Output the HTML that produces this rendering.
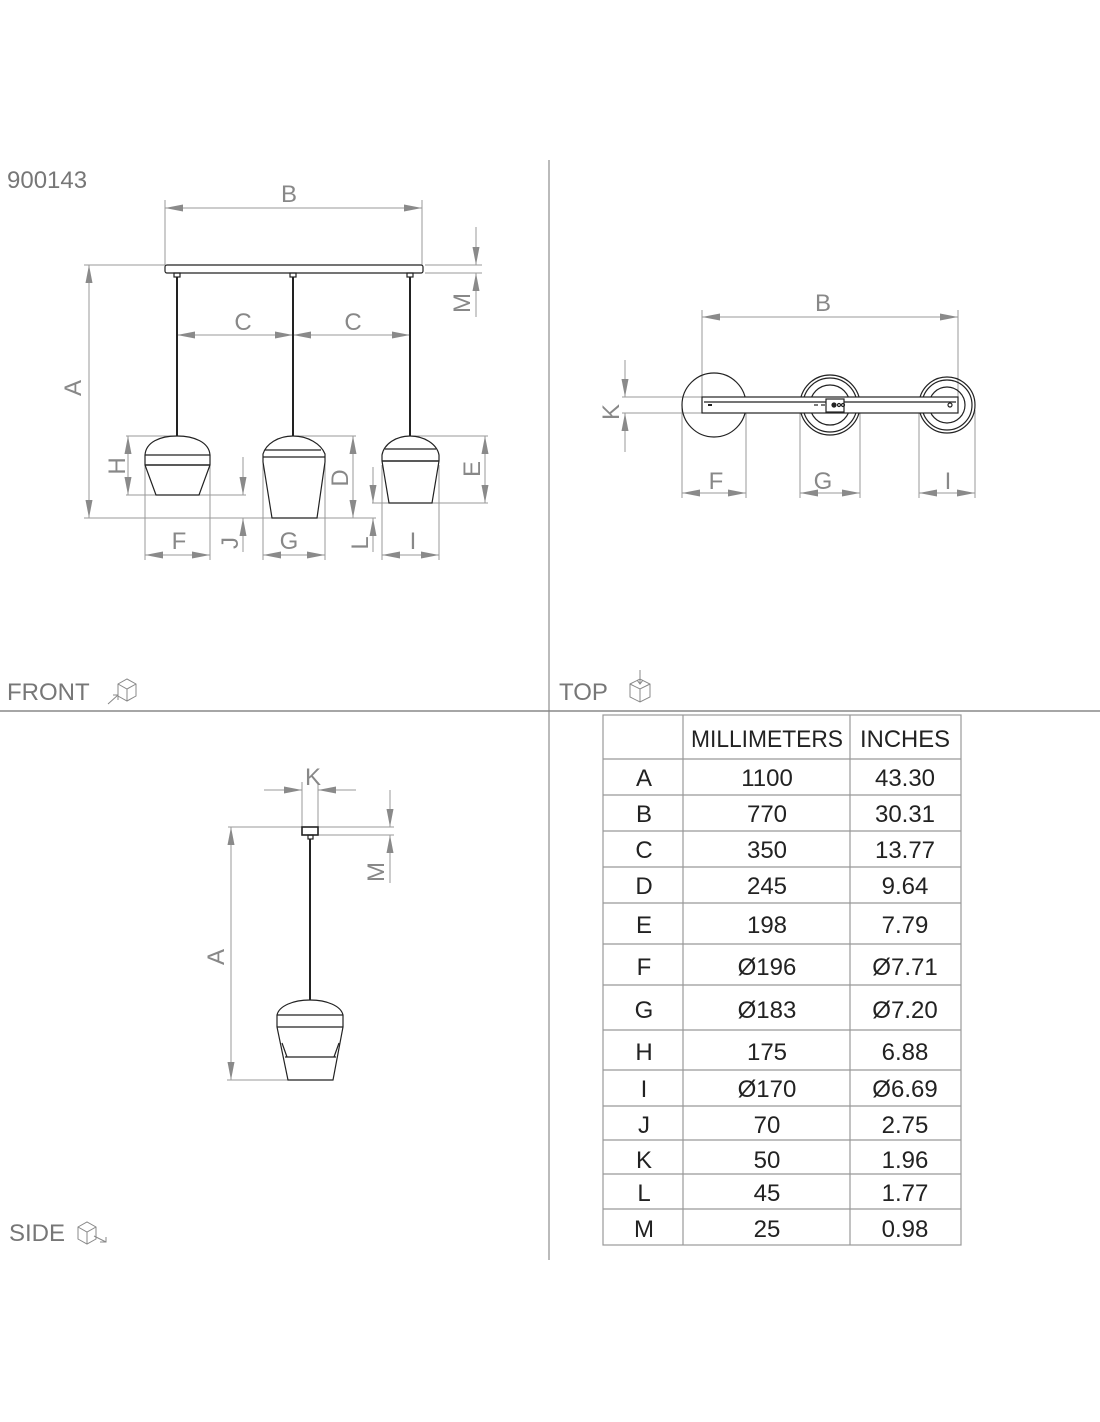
<!DOCTYPE html>
<html><head><meta charset="utf-8"><style>
html,body{margin:0;padding:0;background:#fff;}
svg{display:block;}
</style></head><body>
<svg width="1100" height="1422" viewBox="0 0 1100 1422" xmlns="http://www.w3.org/2000/svg" font-family="Liberation Sans, sans-serif">
<defs>
<marker id="a" markerUnits="userSpaceOnUse" markerWidth="18" markerHeight="7" refX="18" refY="3.5" orient="auto-start-reverse"><path d="M0,0 L18,3.5 L0,7 z" fill="#8a8a8a"/></marker>
</defs>
<g fill="none" stroke="#8f8f8f" stroke-width="1">
<!-- frame lines -->
<line x1="549" y1="160" x2="549" y2="1260" stroke="#777"/>
<line x1="0" y1="711" x2="1100" y2="711" stroke="#888" stroke-width="1.5"/>
</g>
<g fill="#777" font-size="24">
<text x="7" y="188">900143</text>
<text x="7" y="700">FRONT</text>
<text x="559" y="700">TOP</text>
<text x="9" y="1241">SIDE</text>
</g>
<!-- icons -->
<g fill="none" stroke="#888" stroke-width="1">
<path d="M118,684 l9,-5 l9,5 v12 l-9,5 l-9,-5 z M118,684 l9,5 l9,-5 M127,689 v12"/><path d="M108,704 l10,-9 M113,695 h5 v5"/>
<path d="M630,684 l10,-5 l10,5 v13 l-10,5 l-10,-5 z M630,684 l10,5 l10,-5 M640,689 v13 M640,670 v14 M637,680 l3,4 l3,-4"/>
<path d="M78,1227 l9,-5 l9,5 v12 l-9,5 l-9,-5 z M78,1227 l9,5 l9,-5 M87,1232 v12 M94,1236 l12,6 M100,1242 h6 v-5"/>
</g>

<!-- FRONT VIEW -->
<g fill="none" stroke="#9a9a9a" stroke-width="1">
<line x1="165" y1="200" x2="165" y2="265"/><line x1="422" y1="200" x2="422" y2="265"/>
<line x1="165" y1="208" x2="422" y2="208" marker-start="url(#a)" marker-end="url(#a)"/>
<line x1="425" y1="265" x2="482" y2="265"/><line x1="425" y1="273" x2="482" y2="273"/>
<line x1="476" y1="227" x2="476" y2="265" marker-end="url(#a)"/>
<line x1="476" y1="317" x2="476" y2="273" marker-end="url(#a)"/>
<line x1="84" y1="265" x2="165" y2="265"/><line x1="84" y1="518" x2="376" y2="518"/>
<line x1="89" y1="265" x2="89" y2="518" marker-start="url(#a)" marker-end="url(#a)"/>
<line x1="177" y1="335" x2="293" y2="335" marker-start="url(#a)" marker-end="url(#a)"/>
<line x1="293" y1="335" x2="410" y2="335" marker-start="url(#a)" marker-end="url(#a)"/>
<!-- H -->
<line x1="126" y1="436" x2="177" y2="436"/><line x1="126" y1="495" x2="246" y2="495"/>
<line x1="128" y1="436" x2="128" y2="495" marker-start="url(#a)" marker-end="url(#a)"/>
<!-- J -->
<line x1="243" y1="457" x2="243" y2="495" marker-end="url(#a)"/>
<line x1="243" y1="552" x2="243" y2="518" marker-end="url(#a)"/>
<!-- D -->
<line x1="293" y1="436" x2="356" y2="436"/>
<line x1="353" y1="436" x2="353" y2="518" marker-start="url(#a)" marker-end="url(#a)"/>
<!-- E -->
<line x1="410" y1="436" x2="488" y2="436"/><line x1="372" y1="503" x2="488" y2="503"/>
<line x1="485" y1="436" x2="485" y2="503" marker-start="url(#a)" marker-end="url(#a)"/>
<!-- L -->
<line x1="373" y1="467" x2="373" y2="503" marker-end="url(#a)"/>
<line x1="373" y1="552" x2="373" y2="518" marker-end="url(#a)"/>
<!-- F G I -->
<line x1="145" y1="460" x2="145" y2="560"/><line x1="210" y1="460" x2="210" y2="560"/>
<line x1="145" y1="555" x2="210" y2="555" marker-start="url(#a)" marker-end="url(#a)"/>
<line x1="263" y1="460" x2="263" y2="560"/><line x1="325" y1="460" x2="325" y2="560"/>
<line x1="263" y1="555" x2="325" y2="555" marker-start="url(#a)" marker-end="url(#a)"/>
<line x1="382" y1="465" x2="382" y2="560"/><line x1="439" y1="465" x2="439" y2="560"/>
<line x1="382" y1="555" x2="439" y2="555" marker-start="url(#a)" marker-end="url(#a)"/>
</g>
<g fill="none" stroke="#222" stroke-width="1.2">
<rect x="165" y="265" width="258" height="8" rx="2"/>
<rect x="174" y="273" width="6" height="4"/><rect x="290" y="273" width="6" height="4"/><rect x="407" y="273" width="6" height="4"/>
<line x1="177" y1="277" x2="177" y2="436" stroke-width="2"/>
<line x1="293" y1="277" x2="293" y2="436" stroke-width="2"/>
<line x1="410" y1="277" x2="410" y2="436" stroke-width="2"/>
<!-- left lamp -->
<path d="M145,455 C146,442 160,436 177,436 C194,436 209,442 210,455 V465 L199,495 H156 L145,465 Z"/>
<line x1="145" y1="455" x2="210" y2="455"/><line x1="145" y1="465" x2="210" y2="465" stroke-width="1.6"/>
<!-- middle lamp -->
<path d="M263,454 C266,444 278,436 293,436 C308,436 321,444 325,454 V462 L317,518 H272 L263,462 Z"/>
<line x1="265" y1="450" x2="321" y2="450"/><line x1="263" y1="457" x2="325" y2="457"/>
<!-- right lamp -->
<path d="M382,455 C384,444 396,436 410,436 C424,436 437,444 439,455 V461 L432,503 H389 L382,461 Z"/>
<line x1="385" y1="449" x2="436" y2="449"/><line x1="382" y1="461" x2="439" y2="461" stroke-width="1.6"/>
</g>
<g fill="#888" font-size="24" text-anchor="middle">
<text x="289" y="202">B</text>
<text x="243" y="330">C</text><text x="353" y="330">C</text>
<text x="179" y="549">F</text><text x="289" y="549">G</text><text x="413" y="549">I</text>
<text transform="translate(81,388) rotate(-90)">A</text>
<text transform="translate(125,466) rotate(-90)">H</text>
<text transform="translate(348,478) rotate(-90)">D</text>
<text transform="translate(480,469) rotate(-90)">E</text>
<text transform="translate(470,303) rotate(-90)">M</text>
<text transform="translate(238,543) rotate(-90)">J</text>
<text transform="translate(368,543) rotate(-90)">L</text>
</g>

<!-- TOP VIEW -->
<g fill="none" stroke="#9a9a9a" stroke-width="1">
<line x1="702" y1="310" x2="702" y2="397"/><line x1="958" y1="310" x2="958" y2="397"/>
<line x1="702" y1="317" x2="958" y2="317" marker-start="url(#a)" marker-end="url(#a)"/>
<line x1="622" y1="397" x2="702" y2="397"/><line x1="622" y1="413" x2="702" y2="413"/>
<line x1="625" y1="360" x2="625" y2="397" marker-end="url(#a)"/>
<line x1="625" y1="452" x2="625" y2="413" marker-end="url(#a)"/>
<line x1="682" y1="405" x2="682" y2="498"/><line x1="746" y1="405" x2="746" y2="498"/>
<line x1="682" y1="493" x2="746" y2="493" marker-start="url(#a)" marker-end="url(#a)"/>
<line x1="800" y1="410" x2="800" y2="498"/><line x1="860" y1="410" x2="860" y2="498"/>
<line x1="800" y1="493" x2="860" y2="493" marker-start="url(#a)" marker-end="url(#a)"/>
<line x1="919" y1="410" x2="919" y2="498"/><line x1="975" y1="410" x2="975" y2="498"/>
<line x1="919" y1="493" x2="975" y2="493" marker-start="url(#a)" marker-end="url(#a)"/>
</g>
<g fill="none" stroke="#222" stroke-width="1.2">
<circle cx="714" cy="405" r="32"/>
<circle cx="830" cy="405" r="30"/><circle cx="830" cy="405" r="27"/><circle cx="830" cy="405" r="20"/>
<circle cx="947" cy="405" r="28"/><circle cx="947" cy="405" r="25"/><circle cx="947" cy="405" r="18"/>
<rect x="702" y="397" width="256" height="16" fill="#fff"/>
<line x1="704" y1="402" x2="956" y2="402"/>
<rect x="826" y="399" width="18" height="13" fill="#fff"/>
<line x1="708" y1="405" x2="712" y2="405" stroke-width="2"/>
<circle cx="834" cy="405" r="2" fill="#222"/><circle cx="839" cy="405" r="1.5"/><circle cx="843" cy="405" r="1.5"/>
<line x1="814" y1="405" x2="818" y2="405"/><line x1="821" y1="405" x2="825" y2="405"/>
<circle cx="950" cy="405" r="2"/>
</g>
<g fill="#888" font-size="24" text-anchor="middle">
<text x="823" y="311">B</text>
<text x="716" y="489">F</text><text x="823" y="489">G</text><text x="948" y="489">I</text>
<text transform="translate(619,412) rotate(-90)">K</text>
</g>

<!-- SIDE VIEW -->
<g fill="none" stroke="#9a9a9a" stroke-width="1">
<line x1="302" y1="782" x2="302" y2="827"/><line x1="318" y1="782" x2="318" y2="827"/>
<line x1="264" y1="790" x2="302" y2="790" marker-end="url(#a)"/>
<line x1="356" y1="790" x2="318" y2="790" marker-end="url(#a)"/>
<line x1="228" y1="827" x2="394" y2="827"/><line x1="318" y1="835" x2="394" y2="835"/>
<line x1="390" y1="790" x2="390" y2="827" marker-end="url(#a)"/>
<line x1="390" y1="883" x2="390" y2="835" marker-end="url(#a)"/>
<line x1="231" y1="827" x2="231" y2="1080" marker-start="url(#a)" marker-end="url(#a)"/>
<line x1="227" y1="1080" x2="290" y2="1080"/>
</g>
<g fill="none" stroke="#222" stroke-width="1.2">
<rect x="302" y="827" width="16" height="8" stroke-width="1.6"/>
<rect x="308" y="835" width="5" height="4"/>
<line x1="310" y1="839" x2="310" y2="1000" stroke-width="2"/>
<path d="M277,1015 C279,1006 293,1000 310,1000 C327,1000 341,1006 343,1015 V1027 L333,1080 H288 L277,1027 Z"/>
<line x1="277" y1="1015" x2="343" y2="1015"/><line x1="277" y1="1027" x2="343" y2="1027"/>
<line x1="285" y1="1057" x2="336" y2="1057"/>
<line x1="282" y1="1043" x2="287" y2="1057"/><line x1="339" y1="1043" x2="334" y2="1057"/>
</g>
<g fill="#888" font-size="24" text-anchor="middle">
<text x="313" y="785">K</text>
<text transform="translate(224,957) rotate(-90)">A</text>
<text transform="translate(384,872) rotate(-90)">M</text>
</g>

<!-- TABLE -->
<g fill="none" stroke="#999" stroke-width="1.2">
<rect x="603" y="715" width="358" height="530"/>
<line x1="683" y1="715" x2="683" y2="1245"/><line x1="850" y1="715" x2="850" y2="1245"/>
<line x1="603" y1="759" x2="961" y2="759"/><line x1="603" y1="795" x2="961" y2="795"/>
<line x1="603" y1="831" x2="961" y2="831"/><line x1="603" y1="867" x2="961" y2="867"/>
<line x1="603" y1="903" x2="961" y2="903"/><line x1="603" y1="944" x2="961" y2="944"/>
<line x1="603" y1="985" x2="961" y2="985"/><line x1="603" y1="1030" x2="961" y2="1030"/>
<line x1="603" y1="1070" x2="961" y2="1070"/><line x1="603" y1="1106" x2="961" y2="1106"/>
<line x1="603" y1="1140" x2="961" y2="1140"/><line x1="603" y1="1174" x2="961" y2="1174"/>
<line x1="603" y1="1209" x2="961" y2="1209"/>
</g>
<g fill="#222" font-size="24" text-anchor="middle">
<text x="767" y="747" textLength="152" lengthAdjust="spacingAndGlyphs">MILLIMETERS</text>
<text x="905" y="747" textLength="90" lengthAdjust="spacingAndGlyphs">INCHES</text>
<text x="644" y="786">A</text><text x="767" y="786">1100</text><text x="905" y="786">43.30</text>
<text x="644" y="822">B</text><text x="767" y="822">770</text><text x="905" y="822">30.31</text>
<text x="644" y="858">C</text><text x="767" y="858">350</text><text x="905" y="858">13.77</text>
<text x="644" y="894">D</text><text x="767" y="894">245</text><text x="905" y="894">9.64</text>
<text x="644" y="933">E</text><text x="767" y="933">198</text><text x="905" y="933">7.79</text>
<text x="644" y="975">F</text><text x="767" y="975">Ø196</text><text x="905" y="975">Ø7.71</text>
<text x="644" y="1018">G</text><text x="767" y="1018">Ø183</text><text x="905" y="1018">Ø7.20</text>
<text x="644" y="1060">H</text><text x="767" y="1060">175</text><text x="905" y="1060">6.88</text>
<text x="644" y="1097">I</text><text x="767" y="1097">Ø170</text><text x="905" y="1097">Ø6.69</text>
<text x="644" y="1133">J</text><text x="767" y="1133">70</text><text x="905" y="1133">2.75</text>
<text x="644" y="1168">K</text><text x="767" y="1168">50</text><text x="905" y="1168">1.96</text>
<text x="644" y="1201">L</text><text x="767" y="1201">45</text><text x="905" y="1201">1.77</text>
<text x="644" y="1237">M</text><text x="767" y="1237">25</text><text x="905" y="1237">0.98</text>
</g>
</svg>
</body></html>
